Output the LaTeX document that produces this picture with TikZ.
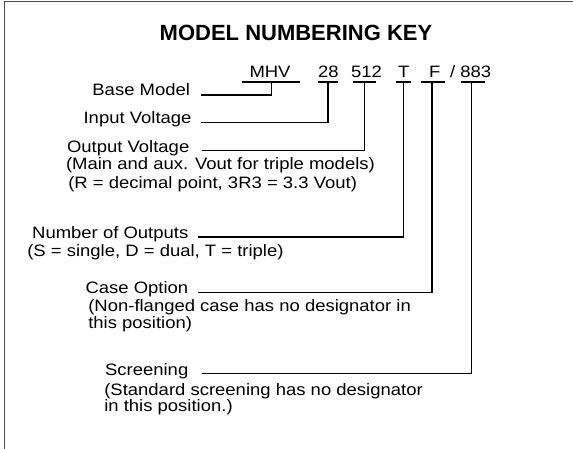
\documentclass[tikz,border=0pt]{standalone}
\usepackage{fontspec}
\setmainfont{Liberation Sans}
\newfontfamily\bodyfont{Liberation Sans}[FakeStretch=1.12]
\newfontfamily\titlefont{Liberation Sans}
\begin{document}
\begin{tikzpicture}[x=1pt,y=-1pt,
  lbl/.style={inner sep=0pt,outer sep=0pt,font=\bodyfont\fontsize{16.5}{17}\selectfont,text=black},
  code/.style={lbl},
  conn/.style={draw=black,line width=1.6pt,line cap=butt,line join=miter},
  uline/.style={draw=black,line width=1.6pt},
  frameline/.style={draw=black!70,line width=1pt}]
\useasboundingbox (0,0) rectangle (573,449);
% frame (top and left only)
\draw[frameline] (4.5,449) -- (4.5,1.5) -- (573,1.5);
% title
\node[inner sep=0pt,anchor=base,font=\titlefont\bfseries\fontsize{22}{24}\selectfont] (title) at (296,41) {MODEL NUMBERING KEY};
% code parts
\node[code,anchor=base west] (mhv) at (249.5,77.3) {MHV};
\node[code,anchor=base west] (n28) at (318,77.3) {28};
\node[code,anchor=base west] (n512) at (351,77.3) {512};
\node[code,anchor=base west] (nT) at (398,77.3) {T};
\node[code,anchor=base west] (nF) at (429,77.3) {F};
\node[code,anchor=base west] (n883) at (450,77.3) {/ 883};
% underlines
\draw[uline] (241.7,82.3) -- (300,82.3);
\draw[uline] (318,82.3) -- (338,82.3);
\draw[uline] (353,82.3) -- (376,82.3);
\draw[uline] (396,82.3) -- (410.7,82.3);
\draw[uline] (421,82.3) -- (445,82.3);
\draw[uline] (461,82.3) -- (485,82.3);
\coordinate (umhv) at (271.5,82.3);
\coordinate (u28) at (328,82.3);
\coordinate (u512) at (364.3,82.3);
\coordinate (uT) at (403.3,82.3);
\coordinate (uF) at (431.7,82.3);
\coordinate (u883) at (471.3,82.3);
% labels
\node[lbl,anchor=base east] (base) at (190,95.7) {Base Model};
\node[lbl,anchor=base east] (inp) at (191.5,124) {Input Voltage};
\node[lbl,anchor=base east] (outv) at (189.3,152.3) {Output Voltage};
\node[lbl,anchor=base west] (outd1) at (66,170) {(Main and aux. Vout for triple models)};
\node[lbl,anchor=base west] (outd2) at (68.3,188.3) {(R = decimal point, 3R3 = 3.3 Vout)};
\node[lbl,anchor=base east] (num) at (188.3,239) {Number of Outputs};
\node[lbl,anchor=base west] (numd) at (27.3,256.7) {(S = single, D = dual, T = triple)};
\node[lbl,anchor=base east] (case) at (188.3,293.3) {Case Option};
\node[lbl,anchor=base west] (cased1) at (88.3,311.7) {(Non-flanged case has no designator in};
\node[lbl,anchor=base west] (cased2) at (88.3,328.3) {this position)};
\node[lbl,anchor=base east] (scr) at (188.3,375) {Screening};
\node[lbl,anchor=base west] (scrd1) at (104.3,395) {(Standard screening has no designator};
\node[lbl,anchor=base west] (scrd2) at (104.3,411.7) {in this position.)};
% connector starts
\coordinate (sbase) at (201,95);
\coordinate (sinp) at (201,122.7);
\coordinate (soutv) at (202,150.7);
\coordinate (snum) at (198.3,237.3);
\coordinate (scase) at (198.3,292.3);
\coordinate (sscr) at (201.7,373.3);
% connectors
\draw[conn] (sbase) -| (umhv);
\draw[conn] (sinp) -| (u28);
\draw[conn] (soutv) -| (u512);
\draw[conn] (snum) -| (uT);
\draw[conn] (scase) -| (uF);
\draw[conn] (sscr) -| (u883);
\end{tikzpicture}
\end{document}
